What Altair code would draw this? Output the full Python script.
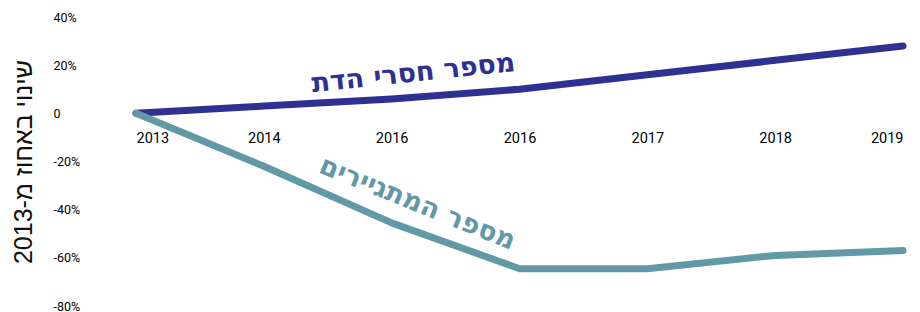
import altair as alt
import pandas as pd

year_labels = ["2013", "2014", "2016", "2016", "2017", "2018", "2019"]
no_religion = [0, 3, 6, 10, 16, 22, 28]
converts = [0, -22, -45.5, -64.5, -64.5, -59, -57]
series_names = ["מספר חסרי הדת", "מספר המתגיירים"]
series_colors = ["#2e3192", "#6199a6"]
y_ticks = [-80, -60, -40, -20, 0, 20, 40]

rows = []
for i, lab in enumerate(year_labels):
    rows.append({"idx": i, "value": no_religion[i], "series": series_names[0]})
    rows.append({"idx": i, "value": converts[i], "series": series_names[1]})
df = pd.DataFrame(rows)

label_df = pd.DataFrame({
    "idx": [2.17, 2.2],
    "value": [16.5, -37.5],
    "series": series_names,
    "angle": [354, 22],
})

label_array = "[" + ",".join("'" + s + "'" for s in year_labels) + "]"

color_scale = alt.Scale(domain=series_names, range=series_colors)
x_enc = alt.X(
    "idx:Q",
    scale=alt.Scale(domain=[0, len(year_labels) - 1], nice=False, zero=False),
    axis=alt.Axis(
        values=list(range(len(year_labels))),
        labelExpr=label_array + "[datum.value]",
        title=None, ticks=False, domain=False, grid=False,
        offset=-193, labelPadding=18, labelFontSize=14.5,
        labelFont="Roboto", labelColor="#000000", labelFontWeight="normal",
    ),
)
y_enc = alt.Y(
    "value:Q",
    scale=alt.Scale(domain=[-80, 40], nice=False),
    axis=alt.Axis(
        values=y_ticks,
        labelExpr="datum.value == 0 ? '0' : datum.value + '%'",
        title="שינוי באחוז מ-2013", titleFontSize=25, titleFont="Liberation Sans",
        titleFontWeight="normal", titleColor="#111111", titlePadding=17,
        ticks=False, tickSize=0, domain=False, grid=False,
        labelAlign="left", labelPadding=83, labelFontSize=12.5,
        labelFont="Roboto", labelColor="#000000", labelFontWeight="normal",
    ),
)

lines = alt.Chart(df).mark_line(strokeWidth=7, strokeCap="round", strokeJoin="round").encode(
    x=x_enc, y=y_enc,
    color=alt.Color("series:N", scale=color_scale, legend=None),
    order=alt.Order("idx:Q"),
)

texts = alt.Chart(label_df).mark_text(
    fontSize=27, fontWeight=900, font="DejaVu Sans", align="center", baseline="middle"
).encode(
    x="idx:Q", y="value:Q",
    text="series:N",
    angle=alt.Angle("angle:Q", scale=None),
    color=alt.Color("series:N", scale=color_scale, legend=None),
)

chart = alt.layer(lines, texts).properties(
    width=767, height=289,
    padding={"left": 3, "top": 3, "right": 0, "bottom": 0},
).configure_view(stroke=None)

chart.save("out.html", embed_options={"renderer": "svg", "actions": False})
